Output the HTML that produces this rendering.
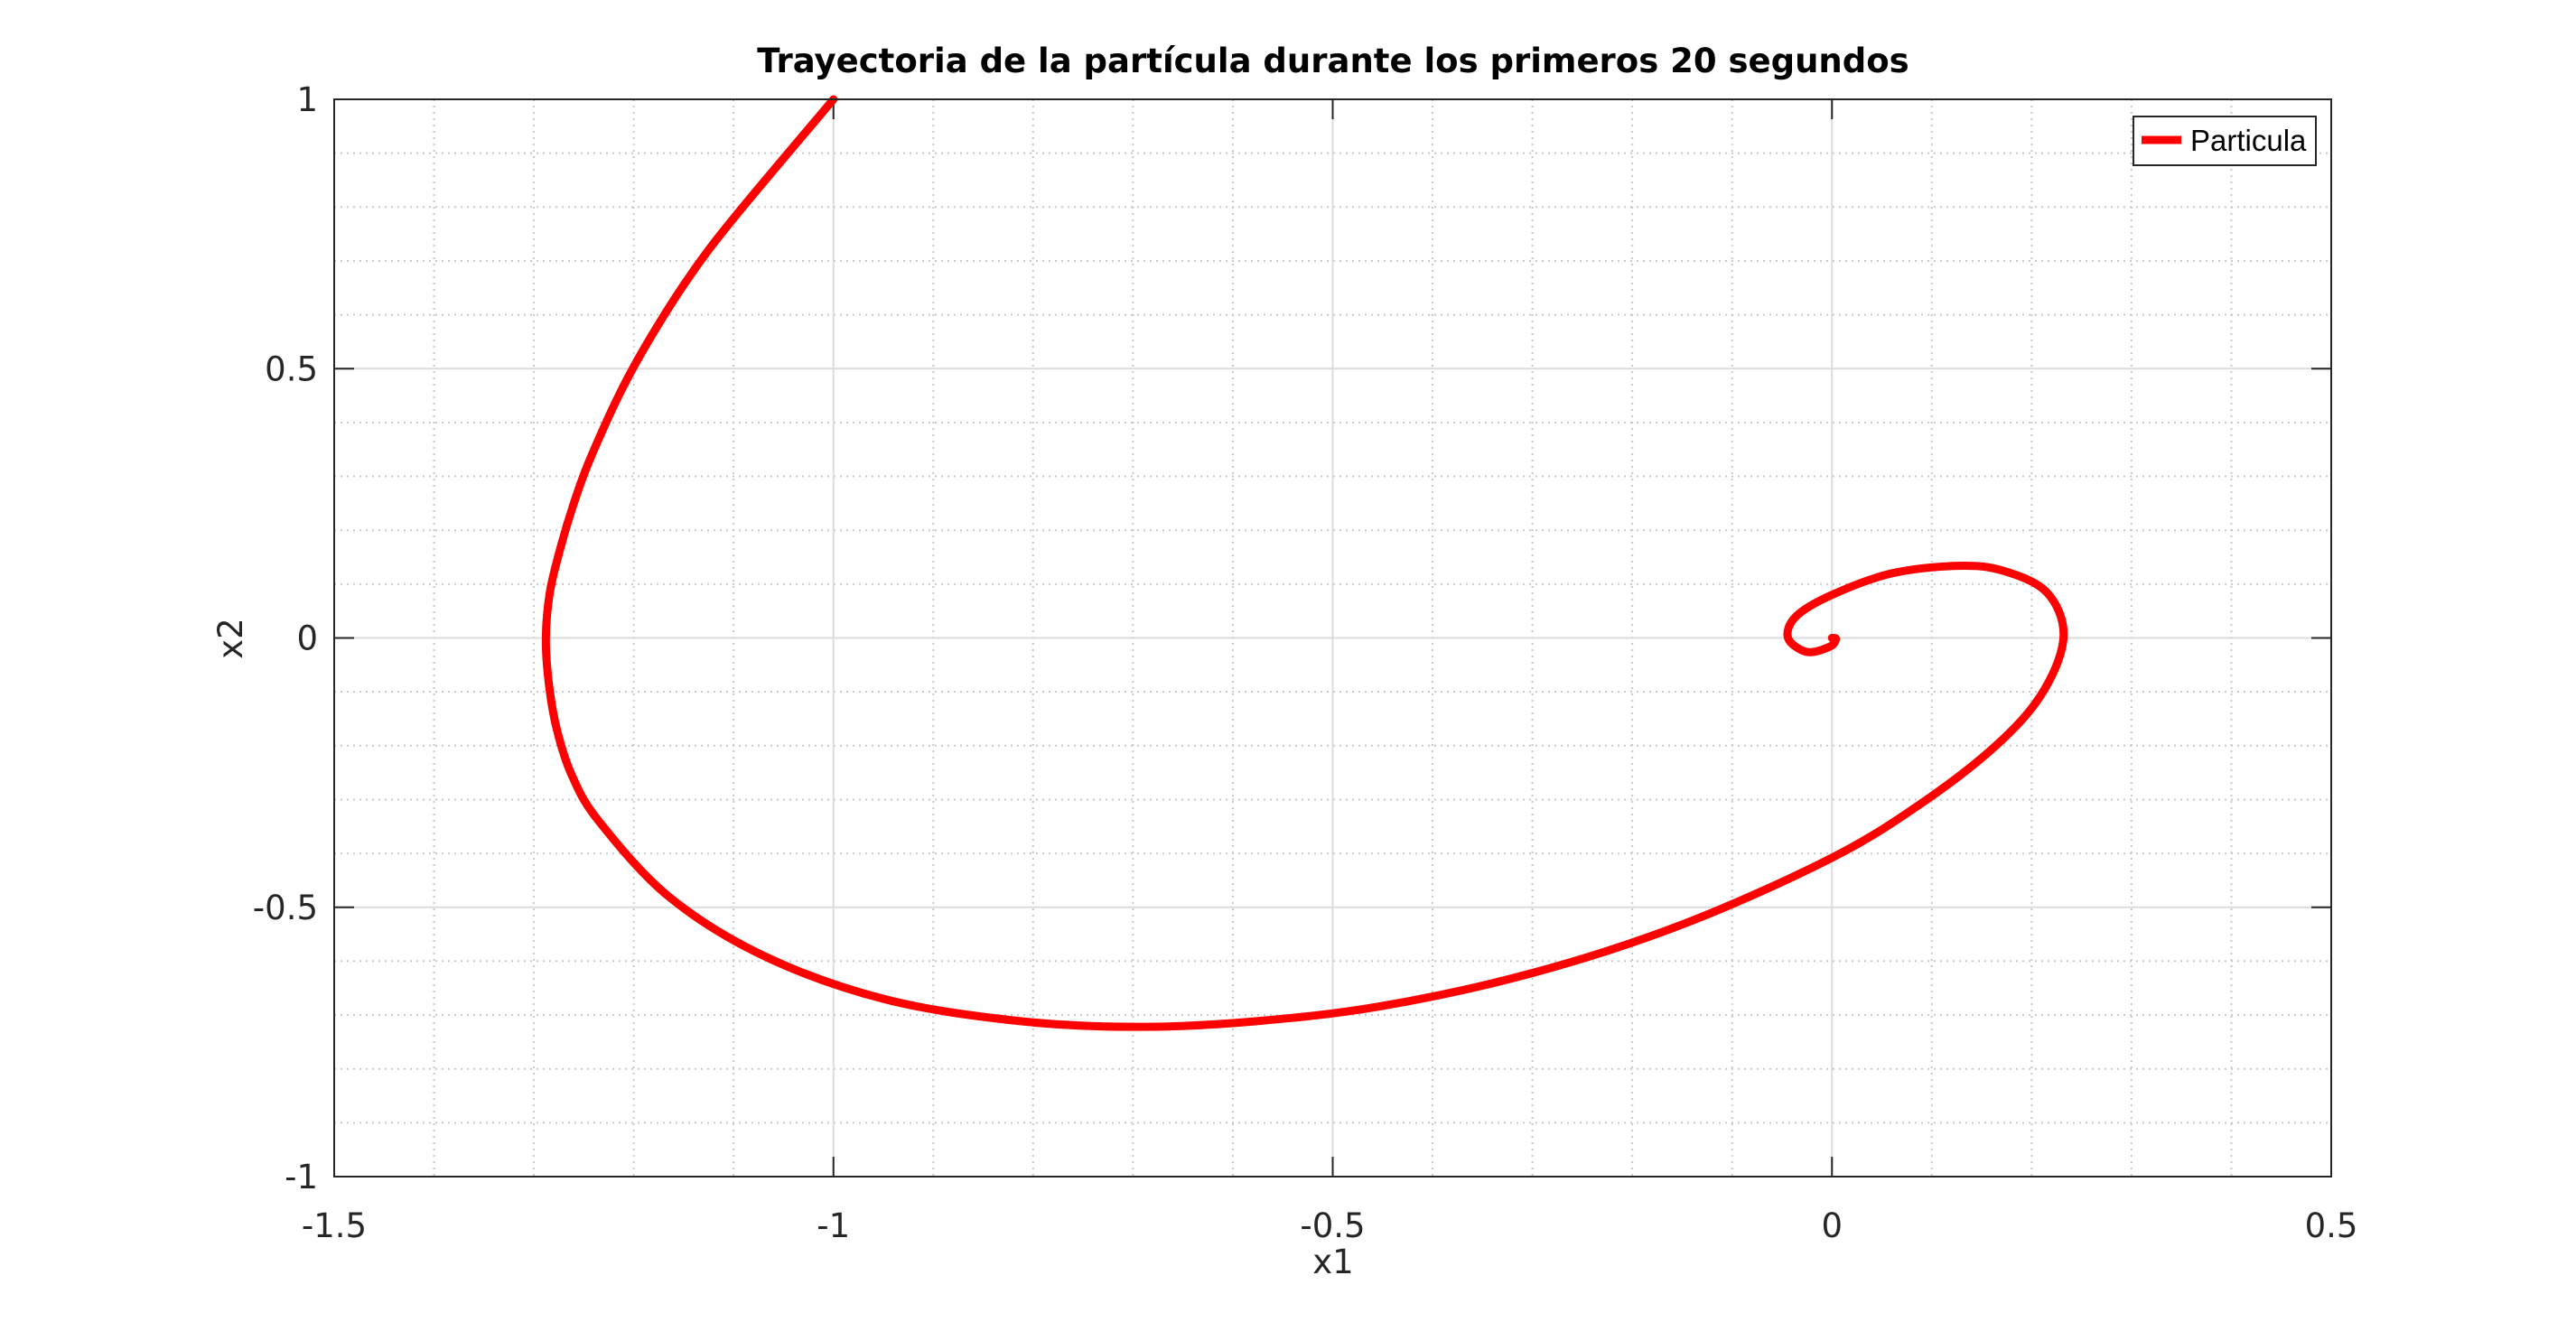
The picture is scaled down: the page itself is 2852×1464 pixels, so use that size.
<!DOCTYPE html>
<html><head><meta charset="utf-8"><style>
html,body{margin:0;padding:0;background:#fff;}
svg{display:block;}
</style></head><body>
<svg id="chart" width="2852" height="1464" xmlns="http://www.w3.org/2000/svg">
<rect width="2852" height="1464" fill="#fff"/>
<g id="grid"></g>
<g id="ticks"></g>
<g id="series"></g>
<rect x="370" y="110" width="2211" height="1193" fill="none" stroke="#262626" stroke-width="2"/>
<text x="1476" y="80" text-anchor="middle" font-family="DejaVu Sans, sans-serif" font-weight="bold" font-size="37" fill="#000">Trayectoria de la partícula durante los primeros 20 segundos</text>
<text x="1476" y="1410" text-anchor="middle" font-family="DejaVu Sans, sans-serif" font-size="37" fill="#262626">x1</text>
<text transform="translate(268,707) rotate(-90)" text-anchor="middle" font-family="DejaVu Sans, sans-serif" font-size="37" fill="#262626">x2</text>
<g>
<rect x="2362" y="129" width="202" height="54" fill="#fff" stroke="#262626" stroke-width="2"/>
<line x1="2371" y1="155" x2="2415" y2="155" stroke="#ff0000" stroke-width="9"/>
<text x="2425" y="167" font-family="Liberation Sans, sans-serif" font-size="33" fill="#000">Particula</text>
</g>
</svg>
<script>
const xTicks = [-1.5, -1, -0.5, 0, 0.5];
const xTickLabels = ["-1.5", "-1", "-0.5", "0", "0.5"];
const yTicks = [-1, -0.5, 0, 0.5, 1];
const yTickLabels = ["-1", "-0.5", "0", "0.5", "1"];
const x1Values = [-1.0, -1.093, -1.137, -1.176, -1.211, -1.244, -1.260, -1.273, -1.284, -1.288, -1.285, -1.277, -1.262, -1.235, -1.165, -1.07, -0.95, -0.82, -0.70, -0.58, -0.45, -0.30, -0.15, 0.0, 0.095, 0.17, 0.213, 0.232, 0.215, 0.171, 0.126, 0.060, 0.0, -0.036, -0.044, -0.025, -0.002, 0.004, 0.0];
const x2Values = [1.0, 0.795, 0.69, 0.58, 0.465, 0.331, 0.25, 0.17, 0.085, 0.0, -0.085, -0.17, -0.255, -0.34, -0.48, -0.59, -0.67, -0.71, -0.722, -0.712, -0.683, -0.622, -0.532, -0.408, -0.30, -0.19, -0.095, 0.005, 0.085, 0.125, 0.134, 0.120, 0.080, 0.040, 0.0, -0.026, -0.016, -0.002, 0.0];

const L=370,R=2581,T=110,B=1303;
const xMin=-1.5,xMax=0.5,yMin=-1,yMax=1;
const sx=v=>L+(v-xMin)/(xMax-xMin)*(R-L);
const sy=v=>B-(v-yMin)/(yMax-yMin)*(B-T);
const NS="http://www.w3.org/2000/svg";
function mk(tag,attrs,parent){const e=document.createElementNS(NS,tag);for(const k in attrs)e.setAttribute(k,attrs[k]);parent.appendChild(e);return e;}
const grid=document.getElementById('grid'), ticks=document.getElementById('ticks'), series=document.getElementById('series');

for(let i=0;i<xTicks.length-1;i++){for(let j=1;j<5;j++){const v=xTicks[i]+(xTicks[i+1]-xTicks[i])*j/5;
const l=mk('line',{x1:sx(v),x2:sx(v),y1:T,y2:B,stroke:'#c8c8c8','stroke-width':2,'stroke-dasharray':'2 5'},grid);

}}
for(let i=0;i<yTicks.length-1;i++){for(let j=1;j<5;j++){const v=yTicks[i]+(yTicks[i+1]-yTicks[i])*j/5;
const l=mk('line',{x1:L,x2:R,y1:sy(v),y2:sy(v),stroke:'#c8c8c8','stroke-width':2,'stroke-dasharray':'2 5'},grid);

}}
xTicks.forEach((v,i)=>{
const g=mk('line',{x1:sx(v),x2:sx(v),y1:T,y2:B,stroke:'#dcdcdc','stroke-width':2},grid);


mk('line',{x1:sx(v),x2:sx(v),y1:B,y2:B-22,stroke:'#262626','stroke-width':2},ticks);
mk('line',{x1:sx(v),x2:sx(v),y1:T,y2:T+22,stroke:'#262626','stroke-width':2},ticks);
const t=mk('text',{x:sx(v),y:1370,'text-anchor':'middle','font-family':'DejaVu Sans, sans-serif','font-size':37,fill:'#262626'},ticks);
t.textContent=xTickLabels[i];


});
yTicks.forEach((v,i)=>{
const g=mk('line',{x1:L,x2:R,y1:sy(v),y2:sy(v),stroke:'#dcdcdc','stroke-width':2},grid);


mk('line',{x1:L,x2:L+22,y1:sy(v),y2:sy(v),stroke:'#262626','stroke-width':2},ticks);
mk('line',{x1:R,x2:R-22,y1:sy(v),y2:sy(v),stroke:'#262626','stroke-width':2},ticks);
const t=mk('text',{x:352,y:sy(v)+13,'text-anchor':'end','font-family':'DejaVu Sans, sans-serif','font-size':37,fill:'#262626'},ticks);
t.textContent=yTickLabels[i];


});
const P=x1Values.map((x,i)=>[sx(x),sy(x2Values[i])]);
let d='M'+P[0][0]+','+P[0][1];
for(let i=0;i<P.length-1;i++){const p0=P[Math.max(0,i-1)],p1=P[i],p2=P[i+1],p3=P[Math.min(P.length-1,i+2)];
d+=' C'+(p1[0]+(p2[0]-p0[0])/6)+','+(p1[1]+(p2[1]-p0[1])/6)+' '+(p2[0]-(p3[0]-p1[0])/6)+','+(p2[1]-(p3[1]-p1[1])/6)+' '+p2[0]+','+p2[1];}
const path=mk('path',{d:d,fill:'none',stroke:'#ff0000','stroke-width':9,'stroke-linejoin':'round','stroke-linecap':'round'},series);


</script>
</body></html>
